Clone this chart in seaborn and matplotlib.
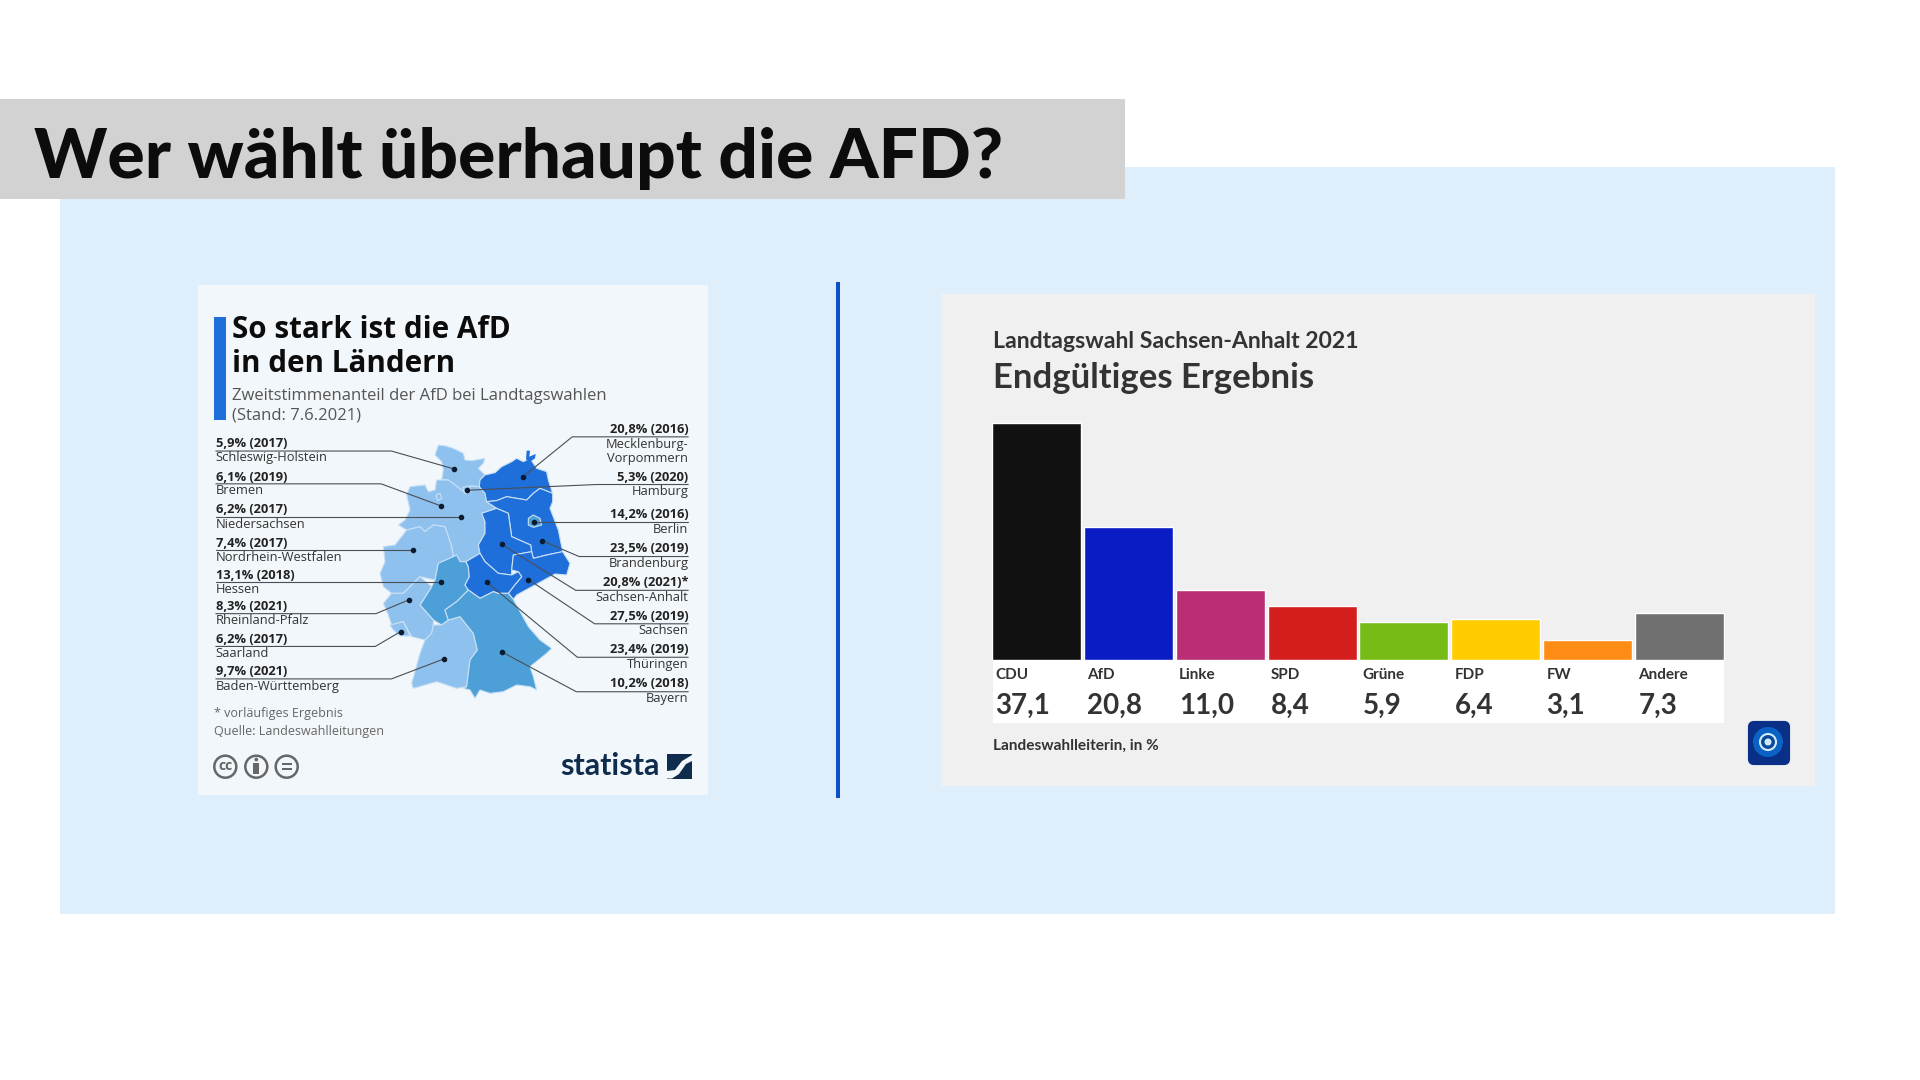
import matplotlib
matplotlib.use('Agg')
import matplotlib.pyplot as plt
import seaborn as sns
from matplotlib.patches import Rectangle, Polygon, Circle, FancyBboxPatch

# Balkendiagramm Sachsen-Anhalt 2021
parties = ['CDU', 'AfD', 'Linke', 'SPD', 'Grüne', 'FDP', 'FW', 'Andere']
results = [37.1, 20.8, 11.0, 8.4, 5.9, 6.4, 3.1, 7.3]
party_colors = ['#111111', '#0a1cc4', '#b92e74', '#d41e1e', '#77bb16', '#ffcc00', '#ff8c14', '#707070']

# Werte der Karte
states_left = ['Schleswig-Holstein', 'Bremen', 'Niedersachsen', 'Nordrhein-Westfalen',
               'Hessen', 'Rheinland-Pfalz', 'Saarland', 'Baden-Württemberg']
shares_left = [5.9, 6.1, 6.2, 7.4, 13.1, 8.3, 6.2, 9.7]
years_left = ['2017', '2019', '2017', '2017', '2018', '2021', '2017', '2021']
states_right = ['Mecklenburg-\nVorpommern', 'Hamburg', 'Berlin', 'Brandenburg',
                'Sachsen-Anhalt', 'Sachsen', 'Thüringen', 'Bayern']
shares_right = [20.8, 5.3, 14.2, 23.5, 20.8, 27.5, 23.4, 10.2]
years_right = ['2016', '2020', '2016', '2019', '2021)*', '2019', '2019', '2018']

# Umrisse der Länder (Pixel im Kartenausschnitt)
outlines = {
    'Schleswig-Holstein': [(205, 45), (228, 48), (250, 55), (280, 70), (285, 90), (305, 92), (345, 85), (340, 100),
                           (325, 115), (345, 135), (330, 150), (328, 170), (300, 168), (280, 185), (262, 170),
                           (235, 150), (215, 148), (220, 120), (215, 95), (195, 75)],
    'Niedersachsen': [(120, 170), (165, 165), (175, 185), (195, 180), (200, 150), (235, 150), (262, 170), (280, 185),
                      (300, 168), (328, 170), (345, 190), (350, 215), (380, 235), (335, 250), (345, 275), (345, 310),
                      (325, 345), (330, 370), (288, 395), (270, 395), (260, 375), (250, 380), (245, 350), (225, 290),
                      (190, 285), (165, 305), (150, 290), (110, 300), (85, 285), (105, 270), (120, 240), (110, 195)],
    'Nordrhein-Westfalen': [(40, 350), (75, 345), (110, 300), (150, 290), (165, 305), (190, 285), (225, 290), (245, 350),
                            (250, 380), (205, 400), (195, 450), (150, 440), (100, 490), (65, 490), (40, 470), (30, 430),
                            (45, 395)],
    'Rheinland-Pfalz': [(40, 520), (65, 490), (100, 490), (150, 440), (185, 470), (150, 525), (190, 570), (190, 585),
                        (185, 610), (165, 630), (125, 620), (100, 575), (65, 585), (55, 555)],
    'Saarland': [(60, 585), (100, 575), (120, 618), (90, 618), (70, 600)],
    'Hessen': [(205, 400), (250, 380), (260, 375), (270, 395), (288, 395), (295, 410), (298, 440), (285, 465), (295, 480),
               (260, 515), (225, 540), (235, 570), (215, 585), (190, 570), (150, 525), (185, 470), (195, 450)],
    'Baden-Württemberg': [(190, 585), (215, 585), (235, 570), (270, 560), (310, 610), (322, 660), (300, 690), (290, 770),
                          (260, 775), (200, 755), (130, 775), (125, 760), (150, 670), (165, 630), (185, 610)],
    'Bayern': [(225, 540), (260, 515), (295, 480), (330, 505), (370, 485), (385, 490), (415, 490), (430, 508), (475, 590),
               (510, 630), (545, 655), (530, 670), (480, 710), (490, 740), (500, 780), (480, 770), (440, 765), (400, 785),
               (360, 790), (330, 780), (315, 805), (300, 780), (280, 775), (290, 770), (300, 690), (322, 660), (310, 610),
               (270, 560), (235, 570)],
    'Thüringen': [(288, 395), (330, 370), (345, 395), (385, 430), (425, 435), (445, 425), (455, 440), (430, 470), (415, 490),
                  (385, 490), (370, 485), (330, 505), (295, 480), (285, 465), (298, 440), (295, 410)],
    'Sachsen-Anhalt': [(335, 250), (380, 235), (415, 250), (425, 320), (482, 345), (485, 365), (430, 375), (425, 420),
                       (425, 435), (385, 430), (345, 395), (330, 370), (325, 345), (345, 310), (345, 275)],
    'Sachsen': [(430, 375), (485, 365), (490, 385), (530, 375), (578, 365), (600, 400), (590, 435), (555, 432), (495, 465),
                (440, 495), (430, 508), (415, 490), (430, 470), (455, 440), (445, 425), (425, 420)],
    'Brandenburg': [(350, 215), (380, 212), (410, 200), (440, 205), (470, 210), (490, 190), (510, 175), (535, 185), (548, 190),
                    (548, 215), (540, 235), (565, 300), (578, 365), (530, 375), (490, 385), (485, 365), (482, 345), (425, 320),
                    (415, 250), (380, 235)],
    'Mecklenburg-\nVorpommern': [(345, 135), (375, 128), (395, 110), (425, 95), (440, 85), (460, 95), (480, 85), (500, 115),
                                 (530, 125), (535, 150), (548, 190), (535, 185), (510, 175), (490, 190), (470, 210), (440, 205),
                                 (410, 200), (380, 212), (350, 215), (345, 190), (328, 170), (330, 150)],
    'Berlin': [(475, 265), (490, 255), (510, 265), (515, 285), (490, 292), (475, 285)],
    'Hamburg': [(278, 172), (298, 168), (303, 185), (284, 190)],
    'Bremen': [(198, 195), (210, 190), (215, 205), (203, 212)],
}
ruegen = [(470, 62), (480, 62), (478, 80), (497, 72), (495, 85), (480, 95), (468, 88)]
small_states = ['Bremen', 'Hamburg', 'Berlin']

# Leitlinien: Zeilenhöhe, Knick und Punkt im Ausschnitt der linken Grafik
left_rows = [(481, 523, 503, 585, 767, 556), (580, 621, 600, 555, 728, 665), (677, 719, 698, 700, 788, 698),
             (776, 818, 797, 560, 648, 797), (871, 912, 891, 650, 728, 891), (963, 1005, 984, 540, 636, 943),
             (1060, 1103, 1081, 538, 612, 1037), (1156, 1198, 1177, 585, 737, 1118)]
right_rows = [(440, 483, 461, 1110, 967, 579), (580, 623, 602, 1180, 803, 619), (691, 735, 712, 1100, 998, 712),
              (792, 835, 815, 1130, 1022, 768), (892, 936, 915, 1120, 905, 779), (991, 1035, 1014, 1175, 983, 883),
              (1090, 1133, 1113, 1125, 862, 891), (1192, 1235, 1215, 1122, 907, 1098)]

map_font = ['Open Sans', 'DejaVu Sans']
tv_font = ['Lato', 'DejaVu Sans']


def lx(v):
    return 190 + v / 2.904


def ly(v):
    return 281 + v / 2.958


def mx(v):
    return 370 + v / 3


def my(v):
    return 430 + v / 3


def tx(v):
    return 930 + v / 1.742


def ty(v):
    return 291 + v / 3


def share_color(share):
    if share < 10:
        return '#8fc1ee'
    if share < 20:
        return '#4d9fd8'
    return '#1f6fdb'


sns.set_theme(style='white')
plt.rcParams['font.family'] = map_font

fig = plt.figure(figsize=(19.2, 10.8), dpi=100, facecolor='white')
bg = fig.add_axes([0, 0, 1, 1], zorder=0)
bg.set_xlim(0, 1920)
bg.set_ylim(1080, 0)
bg.axis('off')

# Hintergrund
bg.add_patch(Rectangle((60, 166.5), 1775, 747, color='#deeefa', lw=0))
bg.add_patch(Rectangle((0, 99), 1125, 100, color='#d2d2d2', lw=0))
bg.text(34, 159, 'Wer wählt überhaupt die AFD?', fontsize=50, fontweight='black', family=['Lato', 'DejaVu Sans'],
        color='#0c0c0c', va='center', ha='left')
bg.add_patch(Rectangle((835.5, 282), 4.5, 516, color='#0b52c8', lw=0))

# Linke Grafik
bg.add_patch(Rectangle((198, 285), 510, 510, color='#f2f7fb', lw=0))
bg.add_patch(Rectangle((214, 316.5), 12, 103, color='#1f6fdb', lw=0))
bg.text(232, 330, 'So stark ist die AfD', fontsize=21.3, fontweight='bold', color='#0c0c0c', va='center')
bg.text(232, 364, 'in den Ländern', fontsize=21.3, fontweight='bold', color='#0c0c0c', va='center')
bg.text(232, 396, 'Zweitstimmenanteil der AfD bei Landtagswahlen', fontsize=12, color='#555555', va='center')
bg.text(232, 416, '(Stand: 7.6.2021)', fontsize=12, color='#555555', va='center')

# Karte, Stadtstaaten zuletzt
all_states = states_left + states_right
all_shares = shares_left + shares_right
pairs = sorted(zip(all_states, all_shares), key=lambda p: p[0] in small_states)
for state, share in pairs:
    pts = [(mx(x), my(y)) for x, y in outlines[state]]
    bg.add_patch(Polygon(pts, closed=True, facecolor=share_color(share), edgecolor='#c8e0f4', lw=0.8))
bg.add_patch(Polygon([(mx(x), my(y)) for x, y in ruegen], closed=True, facecolor=share_color(20.8), lw=0))

for name, share, year, row in zip(states_left, shares_left, years_left, left_rows):
    val_y, name_y, line_y, knee, dot_x, dot_y = row
    label = f'{share:.1f}% ({year})'.replace('.', ',')
    bg.text(lx(75), ly(val_y), label, fontsize=9.3, fontweight='bold', color='#222222', va='center')
    bg.text(lx(75), ly(name_y), name, fontsize=9.3, color='#333333', va='center')
    bg.plot([lx(75), lx(knee), lx(dot_x)], [ly(line_y), ly(line_y), ly(dot_y)], color='#4a4f55', lw=0.8)
    bg.plot(lx(dot_x), ly(dot_y), 'o', color='#0c1c30', ms=3)

for name, share, year, row in zip(states_right, shares_right, years_right, right_rows):
    val_y, name_y, line_y, knee, dot_x, dot_y = row
    year_text = f'({year}' if year.endswith('*') else f'({year})'
    label = f'{share:.1f}% {year_text}'.replace('.', ',')
    bg.text(lx(1447), ly(val_y), label, fontsize=9.3, fontweight='bold', color='#222222', va='center', ha='right')
    parts = name.split('\n')
    for k, part in enumerate(parts):
        bg.text(lx(1447), ly(name_y) + k * 14.3, part, fontsize=9.3, color='#333333', va='center', ha='right')
    bg.plot([lx(1447), lx(knee), lx(dot_x)], [ly(line_y), ly(line_y), ly(dot_y)], color='#4a4f55', lw=0.8)
    bg.plot(lx(dot_x), ly(dot_y), 'o', color='#0c1c30', ms=3)

bg.text(214, 713, '* vorläufiges Ergebnis', fontsize=9, color='#666666', va='center')
bg.text(214, 731, 'Quelle: Landeswahlleitungen', fontsize=9, color='#666666', va='center')

# Lizenz-Symbole und Logo
for cx in [225.3, 256.3, 286.7]:
    bg.add_patch(Circle((cx, 766.7), 11, facecolor='#f2f7fb', edgecolor='#666666', lw=1.8))
bg.text(225.3, 766, 'cc', fontsize=10, fontweight='bold', color='#666666', ha='center', va='center')
bg.add_patch(Circle((256.3, 759.5), 1.9, color='#666666', lw=0))
bg.add_patch(Rectangle((253.3, 762.5), 6, 11, color='#666666', lw=0))
bg.add_patch(Rectangle((281.7, 762.5), 10, 2.4, color='#666666', lw=0))
bg.add_patch(Rectangle((281.7, 768), 10, 2.4, color='#666666', lw=0))
bg.text(660, 766, 'statista', fontsize=22, fontweight='bold', color='#0f2c4c', ha='right', va='center',
        family=tv_font)
bg.add_patch(Rectangle((667, 754), 25, 24.5, color='#0f2c4c', lw=0))
bg.add_patch(Polygon([(667, 778.5), (667, 771), (675, 770), (682, 761), (692, 755), (692, 761), (686, 764),
                      (679, 774), (672, 778.5)], color='#f2f7fb', lw=0))

# Rechte Grafik
bg.add_patch(Rectangle((940.5, 294), 874.5, 492, color='#f0f0f0', lw=0))
bg.add_patch(Rectangle((tx(109), 660), tx(1383) - tx(109), 62.5, color='white', lw=0))
bg.text(tx(109), ty(150), 'Landtagswahl Sachsen-Anhalt 2021', fontsize=16.6, fontweight='bold', color='#333333',
        va='center', family=tv_font)
bg.text(tx(109), ty(262), 'Endgültiges Ergebnis', fontsize=24.9, fontweight='bold', color='#333333',
        va='center', family=tv_font)
bg.text(tx(109), ty(1365), 'Landeswahlleiterin, in %', fontsize=11.1, fontweight='bold', color='#333333',
        va='center', family=tv_font)
bg.add_patch(FancyBboxPatch((1750, 723), 38, 40, boxstyle='round,pad=0,rounding_size=4', facecolor='#0a2f86',
                            edgecolor='#0a2f86', lw=3))
bg.add_patch(Circle((1768, 742), 15, facecolor='#0a62c4', lw=0))
bg.add_patch(Circle((1768, 742), 8, facecolor='#0a4a9c', edgecolor='#cfeaf8', lw=1.5))
bg.add_patch(Circle((1768, 742), 3.5, facecolor='#cfeaf8', lw=0))

ax = fig.add_axes([990.6 / 1920, 1 - 660 / 1080, 734.8 / 1920, 237.3 / 1080], zorder=1)
sns.barplot(x=parties, y=results, hue=parties, palette=party_colors, width=0.97, saturation=1,
            dodge=False, legend=False, ax=ax)
ax.set_xlim(-0.5, 7.5)
ax.set_ylim(0, max(results))
ax.patch.set_alpha(0)
ax.axis('off')
trans = ax.get_xaxis_transform()
for i, (party, value) in enumerate(zip(parties, results)):
    ax.text(i - 0.447, -0.062, party, transform=trans, fontsize=11, fontweight='bold', color='#333333',
            va='center', family=tv_font, clip_on=False)
    ax.text(i - 0.447, -0.194, f'{value:.1f}'.replace('.', ','), transform=trans, fontsize=20, fontweight='bold',
            color='#333333', va='center', family=tv_font, clip_on=False)

plt.savefig('out.png', dpi=100)
plt.close()
